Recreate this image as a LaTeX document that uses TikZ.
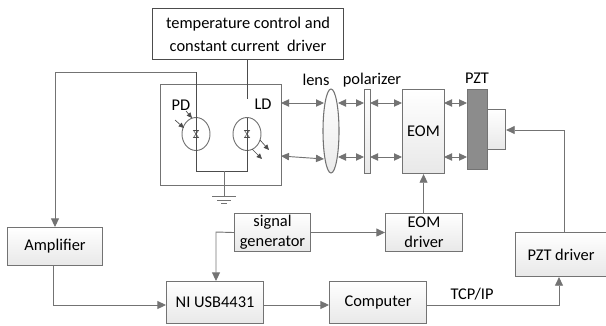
\documentclass[tikz,border=0pt]{standalone}
\usepackage{fontspec}
\setmainfont{Carlito}
\usetikzlibrary{arrows.meta,calc,shapes.geometric}
\definecolor{ln}{gray}{0.45}
\definecolor{dk}{gray}{0.3}
\tikzset{
 x=0.75pt,y=-0.75pt,
 wire/.style={draw=ln,line width=0.7pt},
 arr/.style={wire,-{Triangle[length=6.5pt,width=6pt,fill=ln]}},
 darr/.style={wire,{Triangle[length=6pt,width=5.5pt,fill=ln]}-{Triangle[length=6pt,width=5.5pt,fill=ln]}},
 sarr/.style={draw=dk,line width=0.5pt,-{Triangle[length=4pt,width=3.6pt,fill=dk]}},
 block/.style={draw=ln,line width=0.8pt,top color=white,bottom color=black!9,inner sep=0pt,align=center,font=\fontsize{12.3}{15}\selectfont},
 topbox/.style={draw=dk,line width=0.8pt,fill=white,inner sep=0pt,align=center,font=\fontsize{12.3}{17}\selectfont},
 housebox/.style={draw=ln,line width=0.8pt,inner sep=0pt},
 label/.style={inner sep=0pt,font=\fontsize{12.3}{15}\selectfont},
 bwire/.style={draw=dk,line width=0.6pt},
 can/.style={ellipse,draw=ln,line width=0.7pt,inner sep=0pt,minimum width=28*0.75pt,minimum height=33*0.75pt},
 darkbox/.style={draw=ln,line width=0.8pt,fill=black!45,inner sep=0pt},
 lensshape/.style={ellipse,draw=ln,line width=0.8pt,top color=white,bottom color=black!8,inner sep=0pt,minimum width=16*0.75pt,minimum height=84*0.75pt},
}
\newcommand{\blk}[7][block]{\node[#1,minimum width={(#4-#3)*0.75pt},minimum height={(#6-#5)*0.75pt},anchor=north west] (#2) at (#3,#5) {#7};}
\newcommand{\diodemark}[1]{%
 \draw[dk,line width=0.4pt] ($(#1)+(-2.5,-3.5)$) -- ($(#1)+(2.5,-3.5)$) -- ($(#1)+(-2.5,3.5)$) -- ($(#1)+(2.5,3.5)$) -- cycle;}
\begin{document}
\begin{tikzpicture}
\useasboundingbox (0,0) rectangle (606,325);
% boxes
\blk[topbox]{tc}{152}{343}{8}{59}{temperature control and\\constant current\ \ driver}
\blk[housebox]{house}{160}{281}{84}{185}{}
\node[can] (pd) at (196,134) {};
\node[can] (ld) at (247,134) {};
\node[label] (pdl) at (181,105) {PD};
\node[label] (ldl) at (263,104) {LD};
\node[lensshape] (lens) at (331,131) {};
\blk{pol}{364}{370}{89}{173}{}
\blk{eom}{402}{444}{89}{173}{EOM}
\blk[darkbox]{pzt}{467}{487}{89}{169}{}
\blk{stk}{487}{505}{109}{149}{}
\node[label] (lensl) at (316,80) {lens};
\node[label] (poll) at (372,80) {polarizer};
\node[label] (pztl) at (477,78) {PZT};
\blk{amp}{7}{102}{227}{265}{Amplifier}
\blk{sig}{234}{310}{213}{251}{signal\\generator}
\blk{eomd}{385}{462}{213}{251}{EOM\\driver}
\blk{ni}{166}{263}{281}{323}{NI USB4431}
\blk{comp}{329}{426}{281}{323}{Computer}
\blk{pztd}{515}{606}{232}{276}{PZT driver}
\node[label] (tcp) at (472,294) {TCP/IP};
% laser wiring
\coordinate (ldtop) at (247,99);
\coordinate (ldin) at (247,118);
\coordinate (fb) at (196,72);
\coordinate (fbl) at (55,72);
\coordinate (jl) at (196,171);
\coordinate (jr) at (247,171);
\coordinate (gj) at (224,171);
\coordinate (gnd) at (224,196);
\draw[bwire] (tc.south -| ldtop) -- (ldtop);
\draw[bwire] (ldin) -- (jr) -- (jl) -- (fb);
\draw[wire] (fb) -- (fbl);
\draw[arr] (fbl) -- (amp.north -| fbl);
\draw[wire] (gj) -- (gnd);
\draw[draw=ln,line width=0.6pt] (gnd) ++(-12,0) -- ++(24,0) (gnd) ++(-7,4) -- ++(14,0) (gnd) ++(-3,7) -- ++(6,0);
\diodemark{pd}
\diodemark{ld}
% small light arrows
\coordinate (a1s) at (175,120); \coordinate (a1e) at (184,128);
\coordinate (a2s) at (186,111); \coordinate (a2e) at (192,118);
\coordinate (a3s) at (260,140); \coordinate (a3e) at (269,150);
\coordinate (a4s) at (252,149); \coordinate (a4e) at (262,159);
\draw[sarr] (a1s) -- (a1e);
\draw[sarr] (a2s) -- (a2e);
\draw[sarr] (a3s) -- (a3e);
\draw[sarr] (a4s) -- (a4e);
% optical path
\coordinate (lu) at (324,103); \coordinate (hu) at (281,103);
\coordinate (ll) at (324,159); \coordinate (hl) at (281,156);
\draw[darr] (hu) -- (lu);
\draw[darr] (hl) -- (ll);
\coordinate (u1) at (338,103); \coordinate (u2) at (364,103);
\coordinate (l1) at (338,157); \coordinate (l2) at (364,157);
\coordinate (u3) at (370,103); \coordinate (u4) at (402,103);
\coordinate (l3) at (370,157); \coordinate (l4) at (402,157);
\coordinate (u5) at (444,103); \coordinate (u6) at (467,103);
\coordinate (l5) at (444,157); \coordinate (l6) at (467,157);
\draw[darr] (u1) -- (u2);
\draw[darr] (l1) -- (l2);
\draw[darr] (u3) -- (u4);
\draw[darr] (l3) -- (l4);
\draw[darr] (u5) -- (u6);
\draw[darr] (l5) -- (l6);
% lower connectors
\coordinate (sigv) at (216,232);
\draw[arr] (sig.west) -- (sigv) -- (sigv |- ni.north);
\draw[arr] (sig.east) -- (eomd.west);
\draw[arr] (eomd.north -| eom.south) -- (eom.south);
\coordinate (amb) at (53,265);
\coordinate (amc) at (53,305);
\draw[arr] (amb) -- (amc) -- (ni.west |- amc);
\draw[arr] (ni.east |- amc) -- (comp.west |- amc);
\coordinate (cmr) at (559,305);
\draw[arr] (comp.east |- cmr) -- (cmr) -- (pztd.south -| cmr);
\coordinate (ptop) at (564,130);
\draw[arr] (pztd.north -| ptop) -- (ptop) -- (stk.east |- ptop);
\end{tikzpicture}
\end{document}
